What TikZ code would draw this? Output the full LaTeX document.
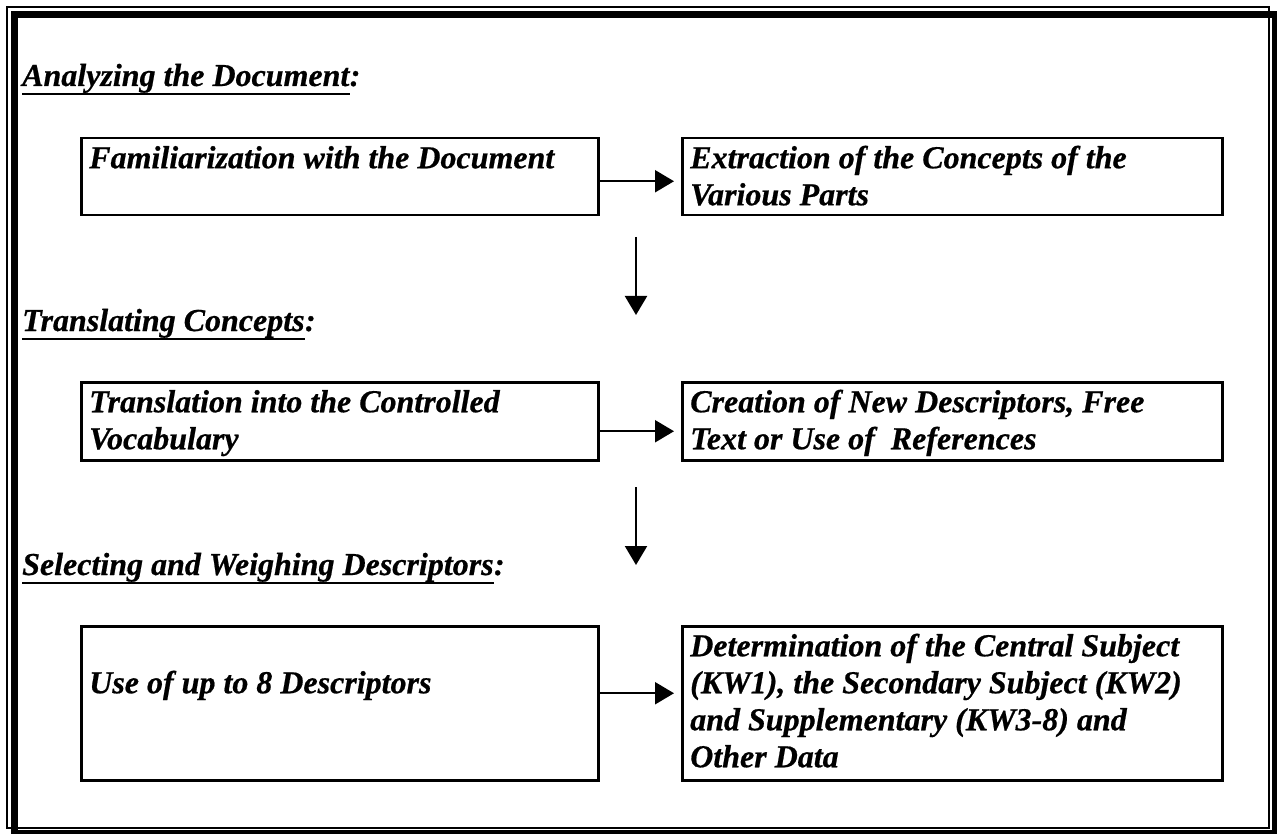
\documentclass[tikz,border=0pt]{standalone}
\usepackage{fontspec}
\setmainfont{Liberation Serif}[BoldItalicFeatures={FakeBold=0.6}]
\usetikzlibrary{arrows.meta}
\newcommand{\cellbox}[4]{\parbox[t][#1][t]{#2}{\raggedright\rule{0pt}{#3}#4}}
\tikzset{
  txtfont/.style={font=\fontsize{32}{37}\selectfont\bfseries\itshape},
  framebox/.style={draw, line width=2.5pt, anchor=north west, inner xsep=8pt, inner ysep=0pt, txtfont},
  headtxt/.style={anchor=base west, inner sep=0pt, txtfont},
  conn/.style={line width=2.2pt, -{Triangle[length=19pt,width=22pt]}},
  uline/.style={line width=2.2pt}
}
\begin{document}
\begin{tikzpicture}[x=1pt,y=-1pt]
\useasboundingbox (0,0) rectangle (1277,834);
% double frame
\draw[line width=2pt] (7,7.5) rectangle (1269,828);
\draw[line width=7pt] (14,14.5) rectangle (1275.5,833);

% headings
\node[headtxt] (h1) at (22,86) {Analyzing the Document};
\node[headtxt] (h1c) at (h1.base east) {:};
\draw[uline] ([yshift=-8pt]h1.base west) -- ([yshift=-8pt]h1.base east);

\node[headtxt] (h2) at (22,331) {Translating Concepts};
\node[headtxt] (h2c) at (h2.base east) {:};
\draw[uline] ([yshift=-8pt]h2.base west) -- ([yshift=-8pt]h2.base east);

\node[headtxt] (h3) at (22,575) {Selecting and Weighing Descriptors};
\node[headtxt] (h3c) at (h3.base east) {:};
\draw[uline] ([yshift=-8pt]h3.base west) -- ([yshift=-8pt]h3.base east);

% boxes
\node[framebox] (b1) at (80,137) {\cellbox{77pt}{501pt}{30pt}{Familiarization with the Document}};
\node[framebox] (b2) at (681,137) {\cellbox{77pt}{524pt}{30pt}{Extraction of the Concepts of the\\Various Parts}};
\node[framebox] (b3) at (80,381) {\cellbox{78pt}{501pt}{30pt}{Translation into the Controlled\\Vocabulary}};
\node[framebox] (b4) at (681,381) {\cellbox{78pt}{524pt}{30pt}{Creation of New Descriptors, Free\\Text or Use of\ \ References}};
\node[framebox] (b5) at (80,625) {\cellbox{154pt}{501pt}{67pt}{Use of up to 8 Descriptors}};
\node[framebox] (b6) at (681,625) {\cellbox{154pt}{524pt}{30pt}{Determination of the Central Subject\\(KW1), the Secondary Subject (KW2)\\and Supplementary (KW3-8) and\\Other Data}};

% connectors
\draw[conn, shorten >=7pt] ([yshift=-4.5pt]b1.east) -- ([yshift=-4.5pt]b2.west);
\draw[conn, shorten >=7pt] ([yshift=-10pt]b3.east) -- ([yshift=-10pt]b4.west);
\draw[conn, shorten >=7pt] ([yshift=10pt]b5.east) -- ([yshift=10pt]b6.west);

\coordinate (v1s) at (636,237);
\coordinate (v1e) at (636,315);
\coordinate (v2s) at (636,487);
\coordinate (v2e) at (636,565);
\draw[conn] (v1s) -- (v1e);
\draw[conn] (v2s) -- (v2e);
\end{tikzpicture}
\end{document}
